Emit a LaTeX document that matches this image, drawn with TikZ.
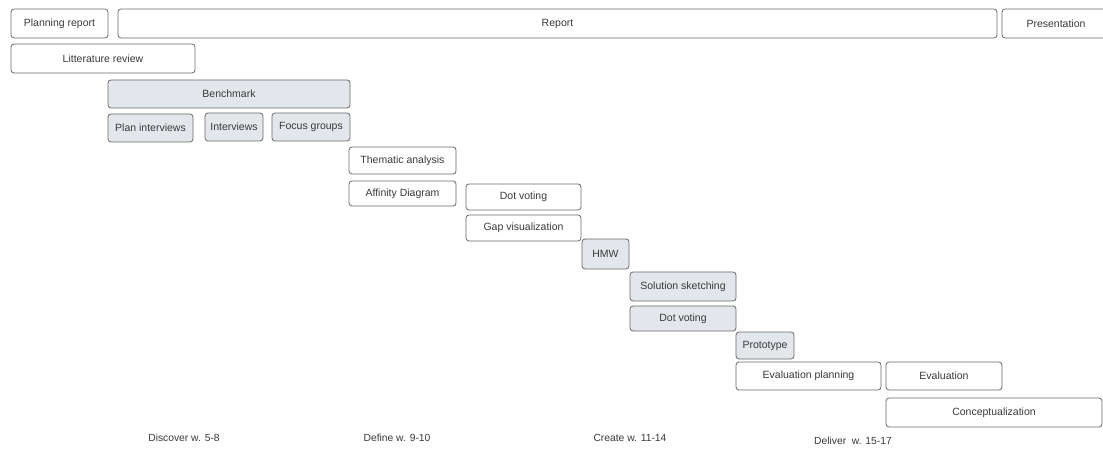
\documentclass[tikz,border=0pt]{standalone}
\usepackage{fontspec}
\setmainfont{Liberation Sans}
\definecolor{boxline}{HTML}{6A6A6A}
\definecolor{boxfill}{HTML}{E3E6EB}
\definecolor{boxtext}{HTML}{3A3A3A}
\tikzset{
    task/.style={draw=boxline, line width=0.8pt, rounded corners=3pt, text=boxtext,
        font=\fontsize{10.5}{12}\selectfont, inner sep=0pt},
    taskgray/.style={task, fill=boxfill},
    phase/.style={text=boxtext, font=\fontsize{10.3}{12}\selectfont, inner sep=0pt}
}
\begin{document}
\begin{tikzpicture}[x=1pt, y=-1pt]
        \useasboundingbox[fill=white] (0,0) rectangle (1103,454);

        % top row
        \node[task, minimum width=97pt, minimum height=29pt] (planrep) at (59.5,23.5) {Planning report};
        \node[task, minimum width=879pt, minimum height=29pt] (report) at (557.5,23.5) {Report};
        \node[task, minimum width=108pt, minimum height=29pt] (present) at (1056,23.5) {Presentation};
        \node[task, minimum width=184pt, minimum height=29pt] (litrev) at (103,58.5) {Litterature review};

        % discover
        \node[taskgray, minimum width=242pt, minimum height=28pt] (bench) at (229,94) {Benchmark};
        \node[taskgray, minimum width=85pt, minimum height=28pt] (planint) at (150.5,128) {Plan interviews};
        \node[taskgray, minimum width=58pt, minimum height=28pt] (interv) at (234,127) {Interviews};
        \node[taskgray, minimum width=78pt, minimum height=28pt] (focus) at (311,127) {Focus groups};

        % define
        \node[task, minimum width=107pt, minimum height=27pt] (thematic) at (402.5,160.5) {Thematic analysis};
        \node[task, minimum width=107pt, minimum height=25pt] (affinity) at (402.5,193.5) {Affinity Diagram};
        \node[task, minimum width=115pt, minimum height=26pt] (dotvoteA) at (523.5,197) {Dot voting};
        \node[task, minimum width=115pt, minimum height=26pt] (gapvis) at (523.5,228) {Gap visualization};

        % create
        \node[taskgray, minimum width=47pt, minimum height=30pt] (hmw) at (605.5,254) {HMW};
        \node[taskgray, minimum width=106pt, minimum height=29pt] (sketch) at (683,286.5) {Solution sketching};
        \node[taskgray, minimum width=106pt, minimum height=25pt] (dotvoteB) at (683,318.5) {Dot voting};
        \node[taskgray, minimum width=58pt, minimum height=27pt] (proto) at (765,345.5) {Prototype};

        % deliver
        \node[task, minimum width=145pt, minimum height=28pt] (evalplan) at (808.5,376) {Evaluation planning};
        \node[task, minimum width=116pt, minimum height=28pt] (eval) at (944,376) {Evaluation};
        \node[task, minimum width=216pt, minimum height=29pt] (concept) at (994,412.5) {Conceptualization};

        % phases
        \node[phase] (discover) at (184,438) {Discover w. 5-8};
        \node[phase] (define) at (397,438) {Define w. 9-10};
        \node[phase] (create) at (630,438) {Create w. 11-14};
        \node[phase] (deliver) at (853,441) {Deliver\ \ w. 15-17};
    \end{tikzpicture}
\end{document}
